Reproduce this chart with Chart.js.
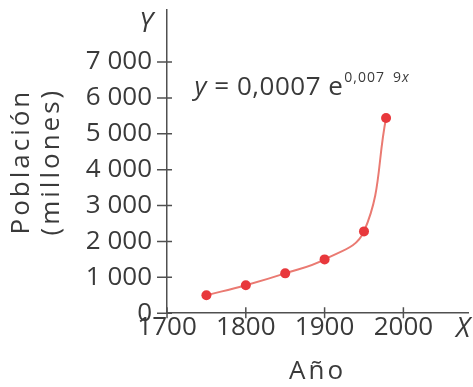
<!DOCTYPE html>
<html><head><meta charset="utf-8">
<script src="https://cdn.jsdelivr.net/npm/chart.js@4.4.1/dist/chart.umd.min.js"></script>
<style>html,body{margin:0;padding:0;background:#fff}#wrap{width:473px;height:387px;position:relative}</style>
</head><body><div id="wrap"><canvas id="c"></canvas></div>
<script>
// ---- data ----
const years = [1750, 1800, 1850, 1900, 1950, 1978];
const population = [500, 780, 1110, 1500, 2280, 5440];
const xTickValues = [1700, 1800, 1900, 2000];
const xTickLabels = ['1700', '1800', '1900', '2000'];
const yTickValues = [0, 1000, 2000, 3000, 4000, 5000, 6000, 7000];
const yTickLabels = ['0', '1 000', '2 000', '3 000', '4 000', '5 000', '6 000', '7 000'];
const xTitle = 'Año';
const yTitle = ['Población', '(millones)'];
const xAxisLetter = 'X';
const yAxisLetter = 'Y';

const FONT = "'Open Sans', sans-serif";
const TEXT = '#3a3a3a';
const AXIS = '#505050';

const titleSpacing = {
  id: 'titleSpacing',
  beforeDraw(chart) {
    Object.values(chart.scales).forEach(s => {
      if (s._spPatched) return;
      const orig = s.drawTitle;
      s.drawTitle = function () {
        const ctx = this.ctx;
        ctx.save();
        ctx.letterSpacing = '3px';
        orig.call(this);
        ctx.restore();
      };
      s._spPatched = true;
    });
  }
};

const crossTicks = {
  id: 'crossTicks',
  beforeDatasetsDraw(chart) {
    const {ctx, scales: {x, y}, chartArea: a} = chart;
    ctx.save();
    ctx.strokeStyle = AXIS;
    ctx.lineWidth = 1.5;
    ctx.beginPath();
    yTickValues.forEach(v => {
      const py = y.getPixelForValue(v);
      ctx.moveTo(a.left - 10, py); ctx.lineTo(a.left + 5, py);
    });
    xTickValues.forEach(v => {
      const px = x.getPixelForValue(v);
      ctx.moveTo(px, a.bottom - 6); ctx.lineTo(px, a.bottom + 5);
    });
    ctx.stroke();
    ctx.restore();
  }
};

const annotations = {
  id: 'annotations',
  afterDraw(chart) {
    const {ctx, scales: {x, y}, chartArea: a} = chart;
    ctx.save();
    ctx.fillStyle = TEXT;
    ctx.textBaseline = 'alphabetic';
    // axis letters
    ctx.font = `italic 27px ${FONT}`;
    ctx.textAlign = 'right';
    ctx.fillText(yAxisLetter, a.left - 14, 32);
    ctx.textAlign = 'left';
    ctx.fillText(xAxisLetter, a.right - 12, a.bottom + 24);
    // formula
    let px = x.getPixelForValue(1735);
    const base = y.getPixelForValue(6080);
    ctx.letterSpacing = '0.5px';
    const seg = (txt, font, dy) => {
      ctx.font = font;
      ctx.fillText(txt, px, base + dy);
      px += ctx.measureText(txt).width;
    };
    seg('y', `italic 26px ${FONT}`, 0);
    seg(' = 0,0007 e', `26px ${FONT}`, 0);
    px += 1;
    ctx.letterSpacing = '1px';
    seg('0,007\u20029', `14px ${FONT}`, -13);
    seg('x', `italic 14px ${FONT}`, -13);
    ctx.restore();
  }
};

const noEdgePad = s => { s.paddingTop = 0; s.paddingBottom = 0; s.paddingLeft = 0; s.paddingRight = 0; };

new Chart(document.getElementById('c'), {
  type: 'line',
  data: {
    datasets: [{
      data: years.map((yr, i) => ({x: yr, y: population[i]})),
      borderColor: '#ea7a72',
      borderWidth: 2,
      backgroundColor: '#e8383c',
      pointBackgroundColor: '#e8383c',
      pointBorderColor: '#e8383c',
      pointRadius: 5,
      pointBorderWidth: 0,
      tension: 0.4,
      fill: false
    }]
  },
  options: {
    responsive: true,
    maintainAspectRatio: false,
    animation: false,
    events: [],
    layout: {padding: {top: 10, right: 4, bottom: 0, left: 0}},
    plugins: {legend: {display: false}, tooltip: {enabled: false}},
    scales: {
      x: {
        type: 'linear',
        min: 1700, max: 2082,
        afterBuildTicks: s => { s.ticks = xTickValues.map(v => ({value: v})); },
        afterFit: noEdgePad,
        ticks: {
          callback: (v) => xTickLabels[xTickValues.indexOf(v)],
          font: {family: FONT, size: 26, lineHeight: 1.1},
          color: TEXT, padding: 0, maxRotation: 0, autoSkip: false
        },
        grid: {display: false, drawTicks: false},
        border: {display: true, color: AXIS, width: 1.5},
        title: {display: true, text: xTitle, color: TEXT,
          font: {family: FONT, size: 26, lineHeight: 1.2}, padding: {top: 14, bottom: 0}}
      },
      y: {
        type: 'linear',
        min: 0, max: 8450,
        afterBuildTicks: s => { s.ticks = yTickValues.map(v => ({value: v})); },
        afterFit: noEdgePad,
        ticks: {
          callback: (v) => yTickLabels[yTickValues.indexOf(v)],
          font: {family: FONT, size: 26},
          color: TEXT, padding: 15, autoSkip: false
        },
        grid: {display: false, drawTicks: false},
        border: {display: true, color: AXIS, width: 1.5},
        title: {display: true, text: yTitle, color: TEXT,
          font: {family: FONT, size: 26, lineHeight: 1.15}, padding: {top: 7, bottom: 4}}
      }
    }
  },
  plugins: [titleSpacing, crossTicks, annotations]
});
</script>
</body></html>
